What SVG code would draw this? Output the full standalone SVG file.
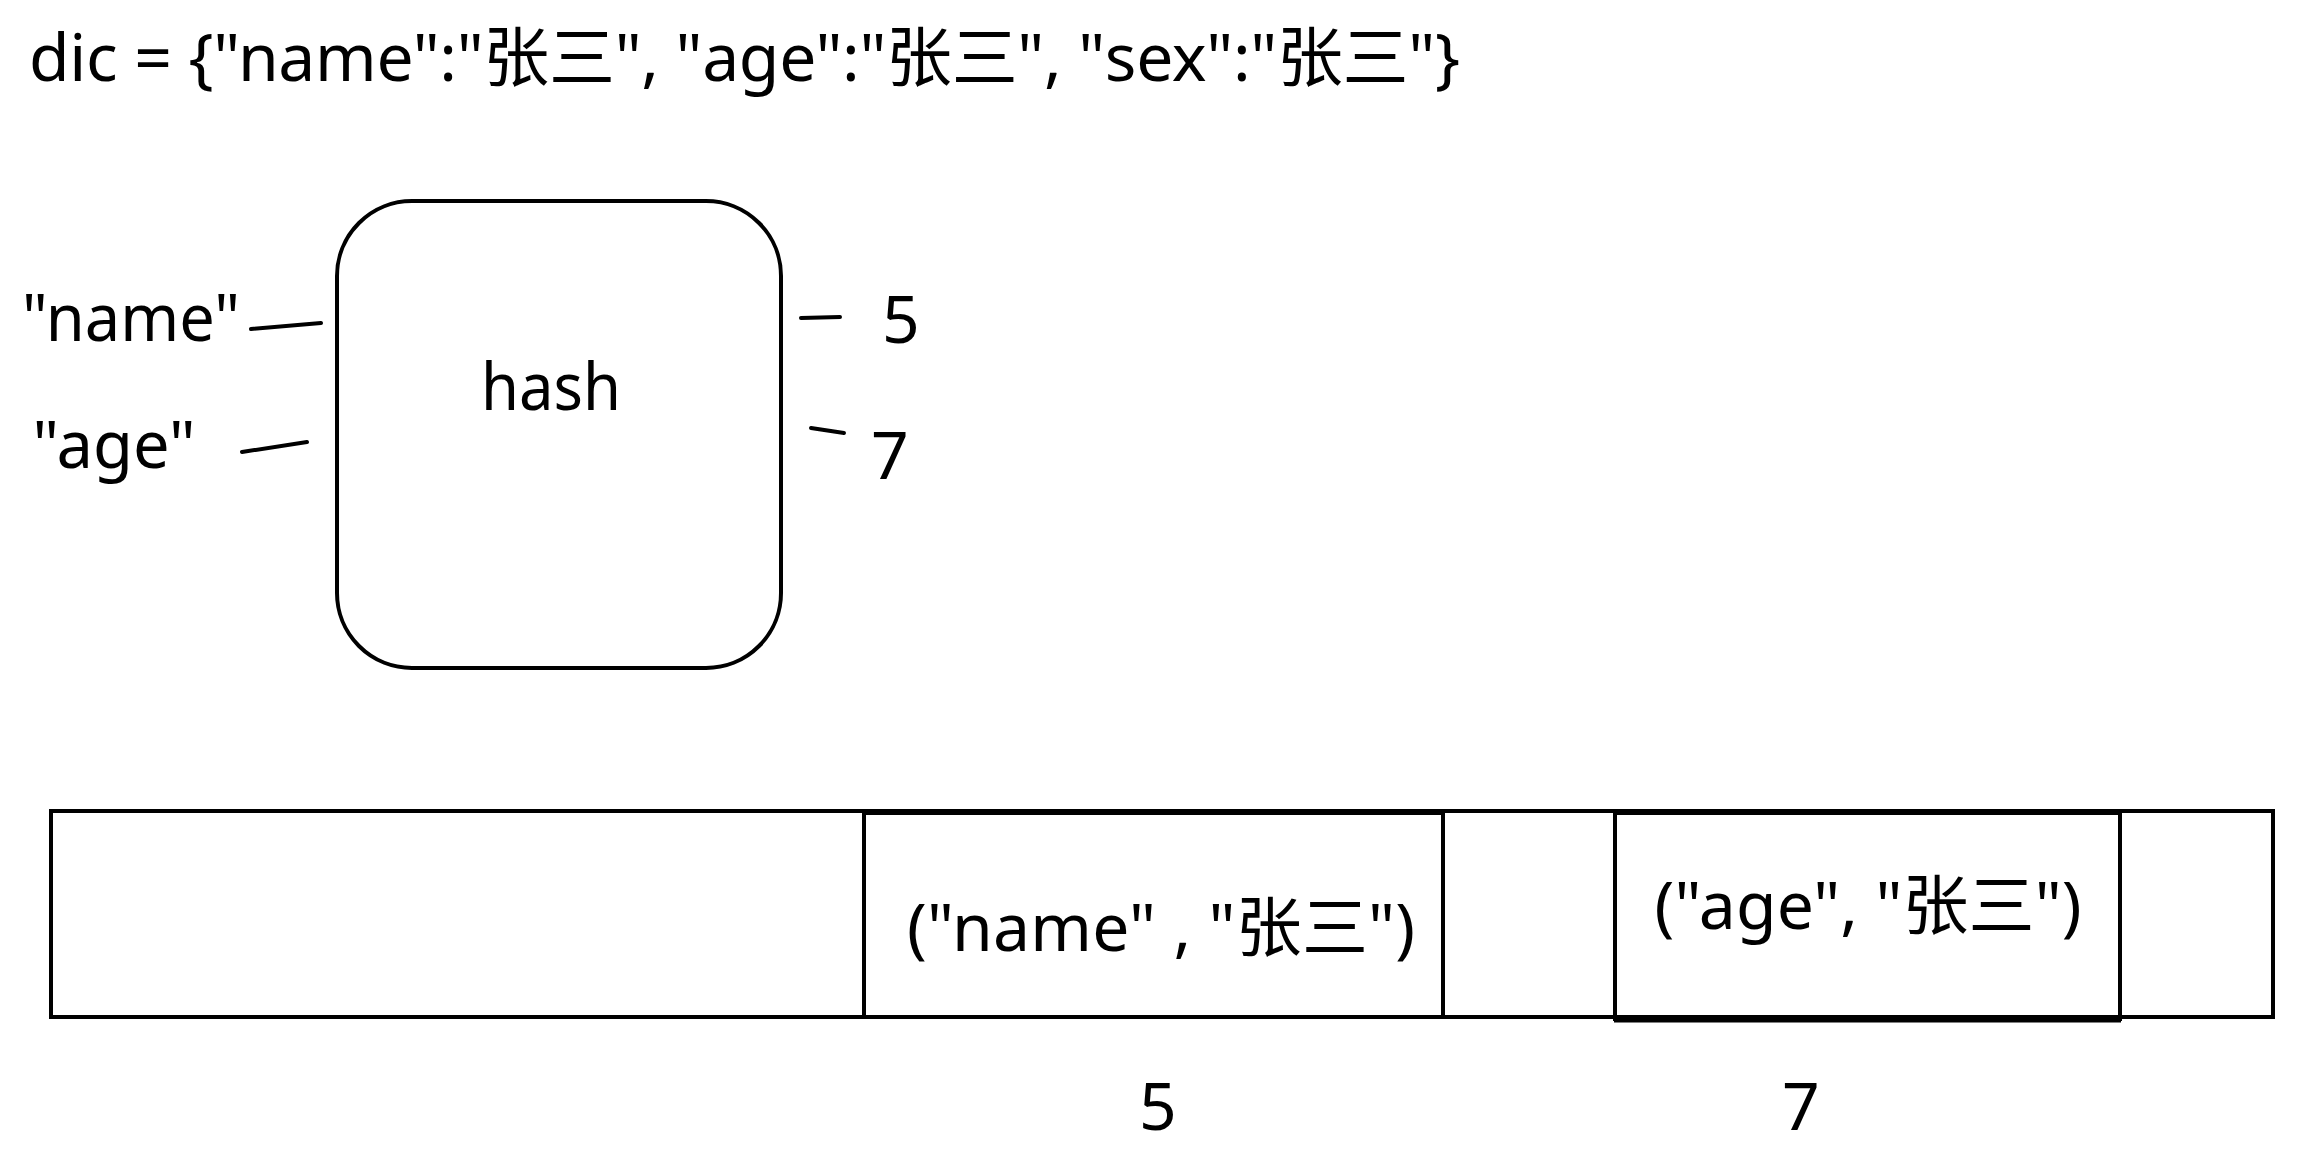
<svg xmlns="http://www.w3.org/2000/svg" width="2323" height="1149" viewBox="0 0 2323 1149">
<style>
  text { font-family: "Noto Sans", "Noto Sans CJK SC", sans-serif; font-size: 66px; fill: #000; }
  .c { text-anchor: middle; }
  .box { fill: #fff; stroke: #000; stroke-width: 4; }
  .cell { fill: none; stroke: #000; stroke-width: 4; }
  .conn line { stroke: #000; stroke-width: 4; stroke-linecap: round; }
</style>
<rect width="2323" height="1149" fill="#fff"/>
<g id="title">
  <text x="29" y="81" textLength="1431" lengthAdjust="spacing">dic = {"name":"张三", "age":"张三", "sex":"张三"}</text>
</g>
<g id="hash">
  <rect class="box" x="337" y="201" width="444" height="467" rx="75" ry="75"/>
  <text class="c" x="551" y="410" textLength="140" lengthAdjust="spacingAndGlyphs">hash</text>
</g>
<g id="key-name">
  <text class="c" x="131" y="341" textLength="218" lengthAdjust="spacingAndGlyphs">"name"</text>
</g>
<g id="key-age">
  <text class="c" x="114" y="468" textLength="163" lengthAdjust="spacingAndGlyphs">"age"</text>
</g>
<g id="out-5">
  <text class="c" x="901" y="343">5</text>
</g>
<g id="out-7">
  <text class="c" x="890" y="479">7</text>
</g>
<g id="array">
  <rect class="cell" x="51" y="811" width="2222" height="206"/>
</g>
<g id="cell-name">
  <rect class="cell" x="864" y="813" width="579" height="204"/>
  <text class="c" x="1161" y="951" textLength="508" lengthAdjust="spacing">("name" , "张三")</text>
</g>
<g id="cell-age">
  <rect class="cell" x="1615" y="813" width="505" height="206"/>
  <line x1="1614" y1="1020" x2="2121" y2="1020" stroke="#000" stroke-width="5"/>
  <text class="c" x="1868" y="929" textLength="427" lengthAdjust="spacing">("age", "张三")</text>
</g>
<g id="index-5">
  <text class="c" x="1158" y="1130">5</text>
</g>
<g id="index-7">
  <text class="c" x="1801" y="1130">7</text>
</g>
<g id="connectors" class="conn">
  <line x1="251" y1="329" x2="321" y2="323"/>
  <line x1="242" y1="452" x2="307" y2="442"/>
  <line x1="801" y1="318" x2="840" y2="317"/>
  <line x1="811" y1="428" x2="844" y2="433"/>
</g>
</svg>
